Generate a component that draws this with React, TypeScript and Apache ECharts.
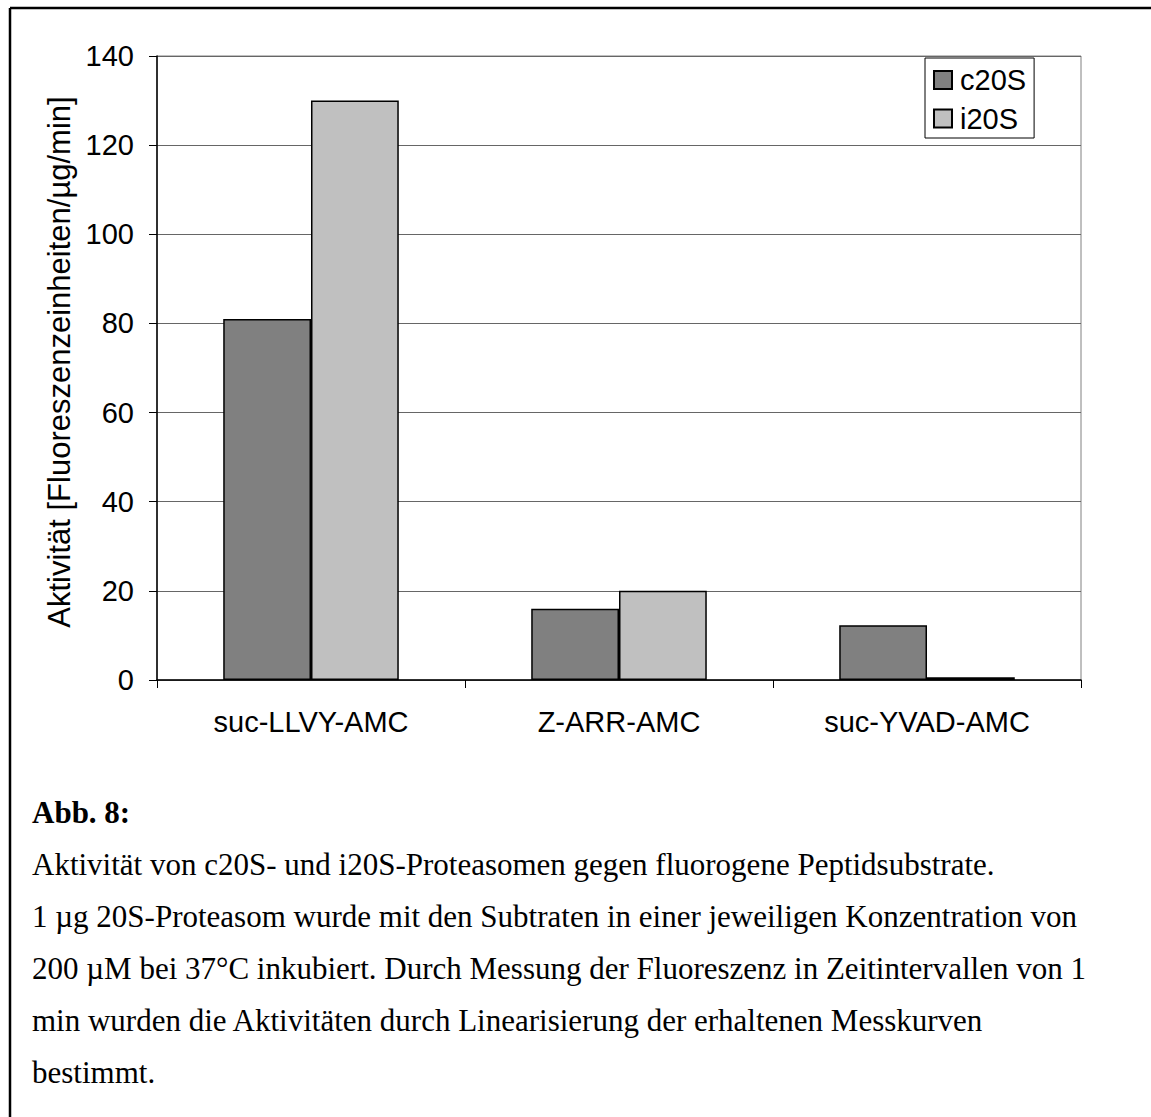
import React, { useEffect, useRef } from "react";
import * as echarts from "echarts";

// Substrates on the x axis
const substrates = ["suc-LLVY-AMC", "Z-ARR-AMC", "suc-YVAD-AMC"];
// Activity [fluorescence units/µg/min]
const c20S = [81, 16, 12.3];
const i20S = [130, 20, 0.6];
const seriesNames = ["c20S", "i20S"];

const yAxisTitle = "Aktivität [Fluoreszenzeinheiten/µg/min]";
const captionTitle = "Abb. 8:";
const captionLines = [
  "Aktivität von c20S- und i20S-Proteasomen gegen fluorogene Peptidsubstrate.",
  "1 µg 20S-Proteasom wurde mit den Subtraten in einer jeweiligen Konzentration von",
  "200 µM bei 37°C inkubiert. Durch Messung der Fluoreszenz in Zeitintervallen von 1",
  "min wurden die Aktivitäten durch Linearisierung der erhaltenen Messkurven",
  "bestimmt.",
];

const SANS = "'Liberation Sans', Arial, sans-serif";
const SERIF = "'Liberation Serif', 'Times New Roman', serif";

export default function App() {
  const ref = useRef<HTMLDivElement>(null);

  useEffect(() => {
    if (!ref.current) return;
    const chart = echarts.init(ref.current, null, { renderer: "svg" });

    const captionTop = 812;
    const captionStep = 52;

    const graphics: any[] = [
      // frame: top and left rules
      {
        type: "line",
        shape: { x1: 10, y1: 8, x2: 1151, y2: 8 },
        style: { stroke: "#000", lineWidth: 2.5 },
      },
      {
        type: "line",
        shape: { x1: 10, y1: 8, x2: 10, y2: 1117 },
        style: { stroke: "#000", lineWidth: 2.5 },
      },
      {
        type: "text",
        x: 59,
        y: 362,
        rotation: Math.PI / 2,
        style: {
          text: yAxisTitle,
          fontFamily: SANS,
          fontSize: 31,
          fill: "#000",
          align: "center",
          verticalAlign: "middle",
        },
      },
      {
        type: "text",
        x: 32,
        y: captionTop,
        style: {
          text: captionTitle,
          fontFamily: SERIF,
          fontWeight: "bold",
          fontSize: 31,
          fill: "#000",
          align: "left",
          verticalAlign: "middle",
        },
      },
      ...captionLines.map((line, i) => ({
        type: "text",
        x: 32,
        y: captionTop + captionStep * (i + 1),
        style: {
          text: line,
          fontFamily: SERIF,
          fontSize: 31,
          fill: "#000",
          align: "left",
          verticalAlign: "middle",
        },
      })),
    ];

    chart.setOption({
      animation: false,
      backgroundColor: "#fff",
      grid: {
        left: 157,
        top: 56,
        width: 924,
        height: 624,
        show: true,
        borderColor: "#808080",
        borderWidth: 1,
        backgroundColor: "transparent",
      },
      legend: {
        orient: "vertical",
        left: 925,
        top: 58,
        data: seriesNames,
        icon: "rect",
        itemWidth: 18,
        itemHeight: 18,
        itemGap: 9.5,
        padding: [7.5, 8, 5, 8],
        borderColor: "#000",
        borderWidth: 1,
        backgroundColor: "#fff",
        selectedMode: false,
        textStyle: {
          fontFamily: SANS,
          fontSize: 29,
          lineHeight: 29,
          color: "#000",
          padding: [0, 0, 0, 3],
        },
      },
      xAxis: {
        type: "category",
        data: substrates,
        axisLine: { lineStyle: { color: "#000", width: 1.5 } },
        axisTick: { show: true, length: 8, lineStyle: { color: "#000" } },
        axisLabel: {
          fontFamily: SANS,
          fontSize: 29,
          color: "#000",
          margin: 27,
        },
      },
      yAxis: {
        type: "value",
        min: 0,
        max: 140,
        interval: 20,
        axisLine: { show: true, lineStyle: { color: "#000", width: 1.5 } },
        axisTick: { show: true, length: 8, lineStyle: { color: "#000" } },
        axisLabel: {
          fontFamily: SANS,
          fontSize: 29,
          color: "#000",
          margin: 23,
        },
        splitLine: { show: true, lineStyle: { color: "#666", width: 1 } },
      },
      series: [
        {
          name: seriesNames[0],
          type: "bar",
          data: c20S,
          barGap: "0%",
          barCategoryGap: "43%",
          itemStyle: { color: "#808080", borderColor: "#000", borderWidth: 1.5 },
        },
        {
          name: seriesNames[1],
          type: "bar",
          data: i20S,
          barGap: "0%",
          barCategoryGap: "43%",
          itemStyle: { color: "#c0c0c0", borderColor: "#000", borderWidth: 1.5 },
        },
      ],
      graphic: graphics,
    });

    return () => chart.dispose();
  }, []);

  return (
    <div
      ref={ref}
      style={{ position: "absolute", left: 0, top: 0, width: 1151, height: 1117 }}
    />
  );
}
